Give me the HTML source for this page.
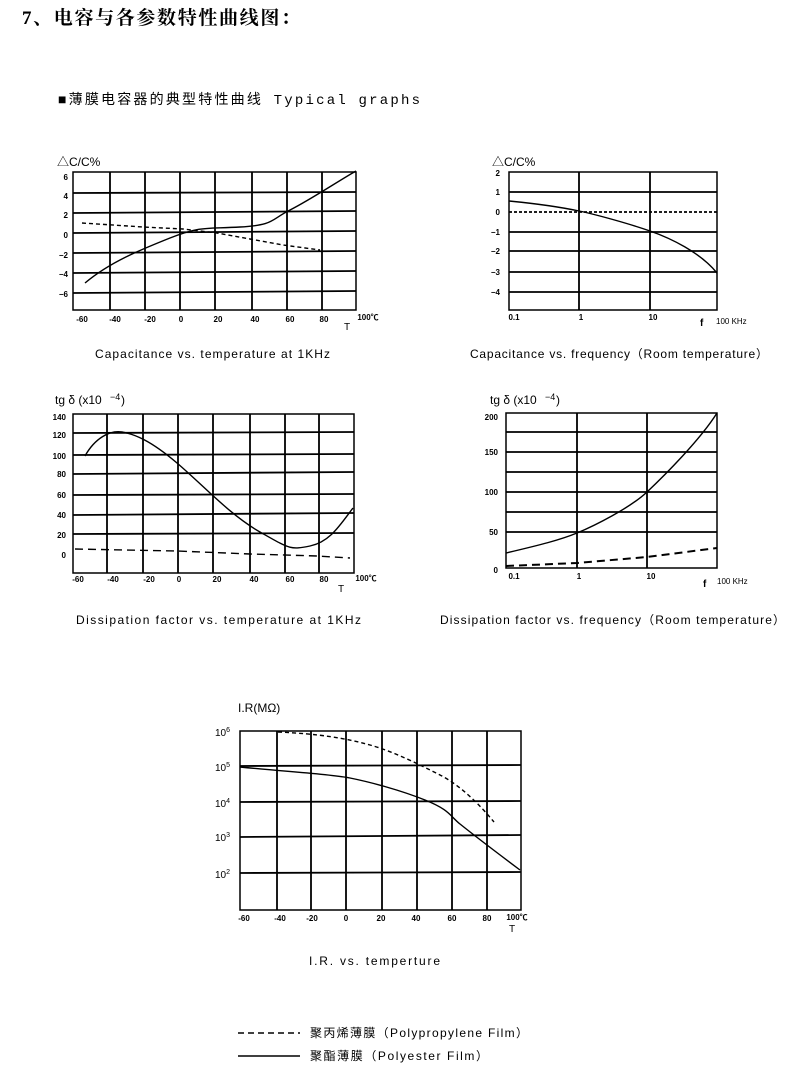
<!DOCTYPE html>
<html><head><meta charset="utf-8"><style>
html,body{margin:0;padding:0;background:#fff;}
svg{display:block;}
text{font-family:"Liberation Sans","Noto Sans CJK SC",sans-serif;fill:#000;}
.t{font-size:8px;font-weight:bold;}
.c{font-size:12px;font-family:"Liberation Sans Narrow","Liberation Sans","Noto Sans CJK SC",sans-serif;}
.g{stroke:#000;stroke-width:1.8;fill:none;}
.b{stroke:#000;stroke-width:1.5;fill:none;}
.s{stroke:#000;stroke-width:1.4;fill:none;}
.d{stroke:#000;stroke-width:1.4;fill:none;stroke-dasharray:4,3;}
</style></head><body>
<svg width="795" height="1071" viewBox="0 0 795 1071">
<text x="22" y="24" textLength="278" style="font-size:19px;font-weight:bold;font-family:'Liberation Serif','Noto Serif CJK SC',serif">7、电容与各参数特性曲线图：</text>
<text x="58" y="104" textLength="362" style="font-size:14px;font-family:'Liberation Mono','Noto Sans CJK SC',monospace">■薄膜电容器的典型特性曲线  Typical graphs</text>

<!-- Chart 1 -->
<text x="57" y="166" style="font-size:12px">△C/C%</text>
<rect x="73" y="172" width="283" height="138" class="b"/>
<g class="g">
<line x1="73" y1="193" x2="356" y2="192"/><line x1="73" y1="213" x2="356" y2="211"/>
<line x1="73" y1="233" x2="356" y2="231"/><line x1="73" y1="253" x2="356" y2="251"/>
<line x1="73" y1="273" x2="356" y2="271"/><line x1="73" y1="293" x2="356" y2="291"/>
<line x1="110" y1="172" x2="110" y2="310"/><line x1="145" y1="172" x2="145" y2="310"/>
<line x1="180" y1="172" x2="180" y2="310"/><line x1="215" y1="172" x2="215" y2="310"/>
<line x1="252" y1="172" x2="252" y2="310"/><line x1="287" y1="172" x2="287" y2="310"/>
<line x1="322" y1="172" x2="322" y2="310"/>
</g>
<path class="s" d="M85,283 C110,262 140,250 170,238 S205,229 240,227 S270,220 290,210 S340,180 356,171"/>
<polyline class="d" points="82,223 143,227 183,229 217,233 250,239 283,245 320,250"/>
<g class="t" text-anchor="end">
<text x="68" y="180">6</text><text x="68" y="199">4</text><text x="68" y="218">2</text><text x="68" y="238">0</text>
<text x="68" y="258">−2</text><text x="68" y="277">−4</text><text x="68" y="297">−6</text></g>
<g class="t" text-anchor="middle">
<text x="82" y="322">-60</text><text x="115" y="322">-40</text><text x="150" y="322">-20</text><text x="181" y="322">0</text>
<text x="218" y="322">20</text><text x="255" y="322">40</text><text x="290" y="322">60</text><text x="324" y="322">80</text>
<text x="368" y="320">100℃</text><text x="347" y="330" style="font-weight:normal;font-size:10px">T</text></g>
<text x="95" y="358" class="c" textLength="235">Capacitance vs. temperature at 1KHz</text>

<!-- Chart 2 -->
<text x="492" y="166" style="font-size:12px">△C/C%</text>
<rect x="509" y="172" width="208" height="138" class="b"/>
<g class="g">
<line x1="509" y1="192" x2="717" y2="192"/><line x1="509" y1="232" x2="717" y2="232"/>
<line x1="509" y1="251" x2="717" y2="251"/><line x1="509" y1="272" x2="717" y2="272"/>
<line x1="509" y1="292" x2="717" y2="292"/>
<line x1="579" y1="172" x2="579" y2="310"/><line x1="650" y1="172" x2="650" y2="310"/>
</g>
<line x1="509" y1="212" x2="717" y2="212" class="d" style="stroke-width:1.8;stroke-dasharray:3,2"/>
<path class="s" d="M509,201 C540,204 560,207 579,211 S630,224 650,231 S700,252 717,273"/>
<g class="t" text-anchor="end">
<text x="500" y="176">2</text><text x="500" y="195">1</text><text x="500" y="215">0</text><text x="500" y="235">−1</text>
<text x="500" y="254">−2</text><text x="500" y="275">−3</text><text x="500" y="295">−4</text></g>
<g class="t" text-anchor="middle">
<text x="514" y="320">0.1</text><text x="581" y="320">1</text><text x="653" y="320">10</text></g>
<text x="700" y="326" style="font-size:10px;font-weight:bold">f</text>
<text x="716" y="324" style="font-size:8px">100 KHz</text>
<text x="470" y="358" class="c" textLength="298">Capacitance vs. frequency（Room temperature）</text>

<!-- Chart 3 -->
<text x="55" y="404" style="font-size:12px">tg δ  (x10</text><text x="110" y="400" style="font-size:9px">−4</text><text x="121" y="404" style="font-size:12px">)</text>
<rect x="73" y="414" width="281" height="159" class="b"/>
<g class="g">
<line x1="73" y1="433" x2="354" y2="432"/><line x1="73" y1="455" x2="354" y2="454"/>
<line x1="73" y1="474" x2="354" y2="472"/><line x1="73" y1="495" x2="354" y2="494"/>
<line x1="73" y1="515" x2="354" y2="513"/><line x1="73" y1="534" x2="354" y2="533"/>
<line x1="107" y1="414" x2="107" y2="573"/><line x1="143" y1="414" x2="143" y2="573"/>
<line x1="178" y1="414" x2="178" y2="573"/><line x1="213" y1="414" x2="213" y2="573"/>
<line x1="250" y1="414" x2="250" y2="573"/><line x1="285" y1="414" x2="285" y2="573"/>
<line x1="319" y1="414" x2="319" y2="573"/>
</g>
<path class="s" d="M85,456 C95,438 110,430 122,432 S150,440 177,463 S230,515 260,532 S290,550 310,546 S340,525 353,508"/>
<polyline class="d" style="stroke-dasharray:8,5" points="75,549 177,551 250,554 317,556 350,558"/>
<g class="t" text-anchor="end">
<text x="66" y="420">140</text><text x="66" y="438">120</text><text x="66" y="459">100</text><text x="66" y="477">80</text>
<text x="66" y="498">60</text><text x="66" y="518">40</text><text x="66" y="538">20</text><text x="66" y="558">0</text></g>
<g class="t" text-anchor="middle">
<text x="78" y="582">-60</text><text x="113" y="582">-40</text><text x="149" y="582">-20</text><text x="179" y="582">0</text>
<text x="217" y="582">20</text><text x="254" y="582">40</text><text x="290" y="582">60</text><text x="324" y="582">80</text>
<text x="366" y="581">100℃</text><text x="341" y="592" style="font-weight:normal;font-size:10px">T</text></g>
<text x="76" y="624" class="c" textLength="285">Dissipation factor vs. temperature at 1KHz</text>

<!-- Chart 4 -->
<text x="490" y="404" style="font-size:12px">tg δ  (x10</text><text x="545" y="400" style="font-size:9px">−4</text><text x="556" y="404" style="font-size:12px">)</text>
<rect x="506" y="413" width="211" height="155" class="b"/>
<g class="g">
<line x1="506" y1="432" x2="717" y2="432"/><line x1="506" y1="452" x2="717" y2="452"/>
<line x1="506" y1="472" x2="717" y2="472"/><line x1="506" y1="492" x2="717" y2="492"/>
<line x1="506" y1="512" x2="717" y2="512"/><line x1="506" y1="532" x2="717" y2="532"/>
<line x1="577" y1="413" x2="577" y2="568"/><line x1="647" y1="413" x2="647" y2="568"/>
</g>
<path class="s" d="M506,553 C540,545 560,540 577,533 S630,508 647,492 S700,440 717,413"/>
<polyline class="d" style="stroke-width:2;stroke-dasharray:8,5" points="506,566 577,563 647,557 717,548"/>
<g class="t" text-anchor="end">
<text x="498" y="420">200</text><text x="498" y="455">150</text><text x="498" y="495">100</text><text x="498" y="535">50</text><text x="498" y="573">0</text></g>
<g class="t" text-anchor="middle">
<text x="514" y="579">0.1</text><text x="579" y="579">1</text><text x="651" y="579">10</text></g>
<text x="703" y="587" style="font-size:10px;font-weight:bold">f</text>
<text x="717" y="584" style="font-size:8px">100 KHz</text>
<text x="440" y="624" class="c" textLength="345">Dissipation factor vs. frequency（Room temperature）</text>

<!-- Chart 5 -->
<text x="238" y="712" style="font-size:12px">I.R(MΩ)</text>
<rect x="240" y="731" width="281" height="179" class="b"/>
<g class="g">
<line x1="240" y1="766" x2="521" y2="765"/><line x1="240" y1="802" x2="521" y2="801"/>
<line x1="240" y1="837" x2="521" y2="835"/><line x1="240" y1="873" x2="521" y2="872"/>
<line x1="277" y1="731" x2="277" y2="910"/><line x1="311" y1="731" x2="311" y2="910"/>
<line x1="346" y1="731" x2="346" y2="910"/><line x1="382" y1="731" x2="382" y2="910"/>
<line x1="417" y1="731" x2="417" y2="910"/><line x1="452" y1="731" x2="452" y2="910"/>
<line x1="487" y1="731" x2="487" y2="910"/>
</g>
<path class="s" d="M240,767 C290,772 330,774 350,778 S400,790 425,800 S450,816 460,824 S500,855 520,870"/>
<path class="d" d="M278,732 C320,734 345,738 370,745 S420,765 440,775 S480,805 494,822"/>
<g style="font-size:10px" text-anchor="end">
<text x="230" y="736">10<tspan dy="-4" font-size="7">6</tspan></text>
<text x="230" y="771">10<tspan dy="-4" font-size="7">5</tspan></text>
<text x="230" y="807">10<tspan dy="-4" font-size="7">4</tspan></text>
<text x="230" y="841">10<tspan dy="-4" font-size="7">3</tspan></text>
<text x="230" y="878">10<tspan dy="-4" font-size="7">2</tspan></text></g>
<g class="t" text-anchor="middle">
<text x="244" y="921">-60</text><text x="280" y="921">-40</text><text x="312" y="921">-20</text><text x="346" y="921">0</text>
<text x="381" y="921">20</text><text x="416" y="921">40</text><text x="452" y="921">60</text><text x="487" y="921">80</text>
<text x="517" y="920">100℃</text><text x="512" y="932" style="font-weight:normal;font-size:10px">T</text></g>
<text x="309" y="965" class="c" textLength="131">I.R. vs. temperture</text>

<!-- Legend -->
<line x1="238" y1="1033" x2="300" y2="1033" stroke="#000" stroke-width="1.5" stroke-dasharray="6,4"/>
<line x1="238" y1="1056" x2="300" y2="1056" stroke="#000" stroke-width="1.5"/>
<text x="310" y="1037" class="c" textLength="218">聚丙烯薄膜（Polypropylene Film）</text>
<text x="310" y="1060" class="c" textLength="178">聚酯薄膜（Polyester Film）</text>
</svg>
</body></html>
